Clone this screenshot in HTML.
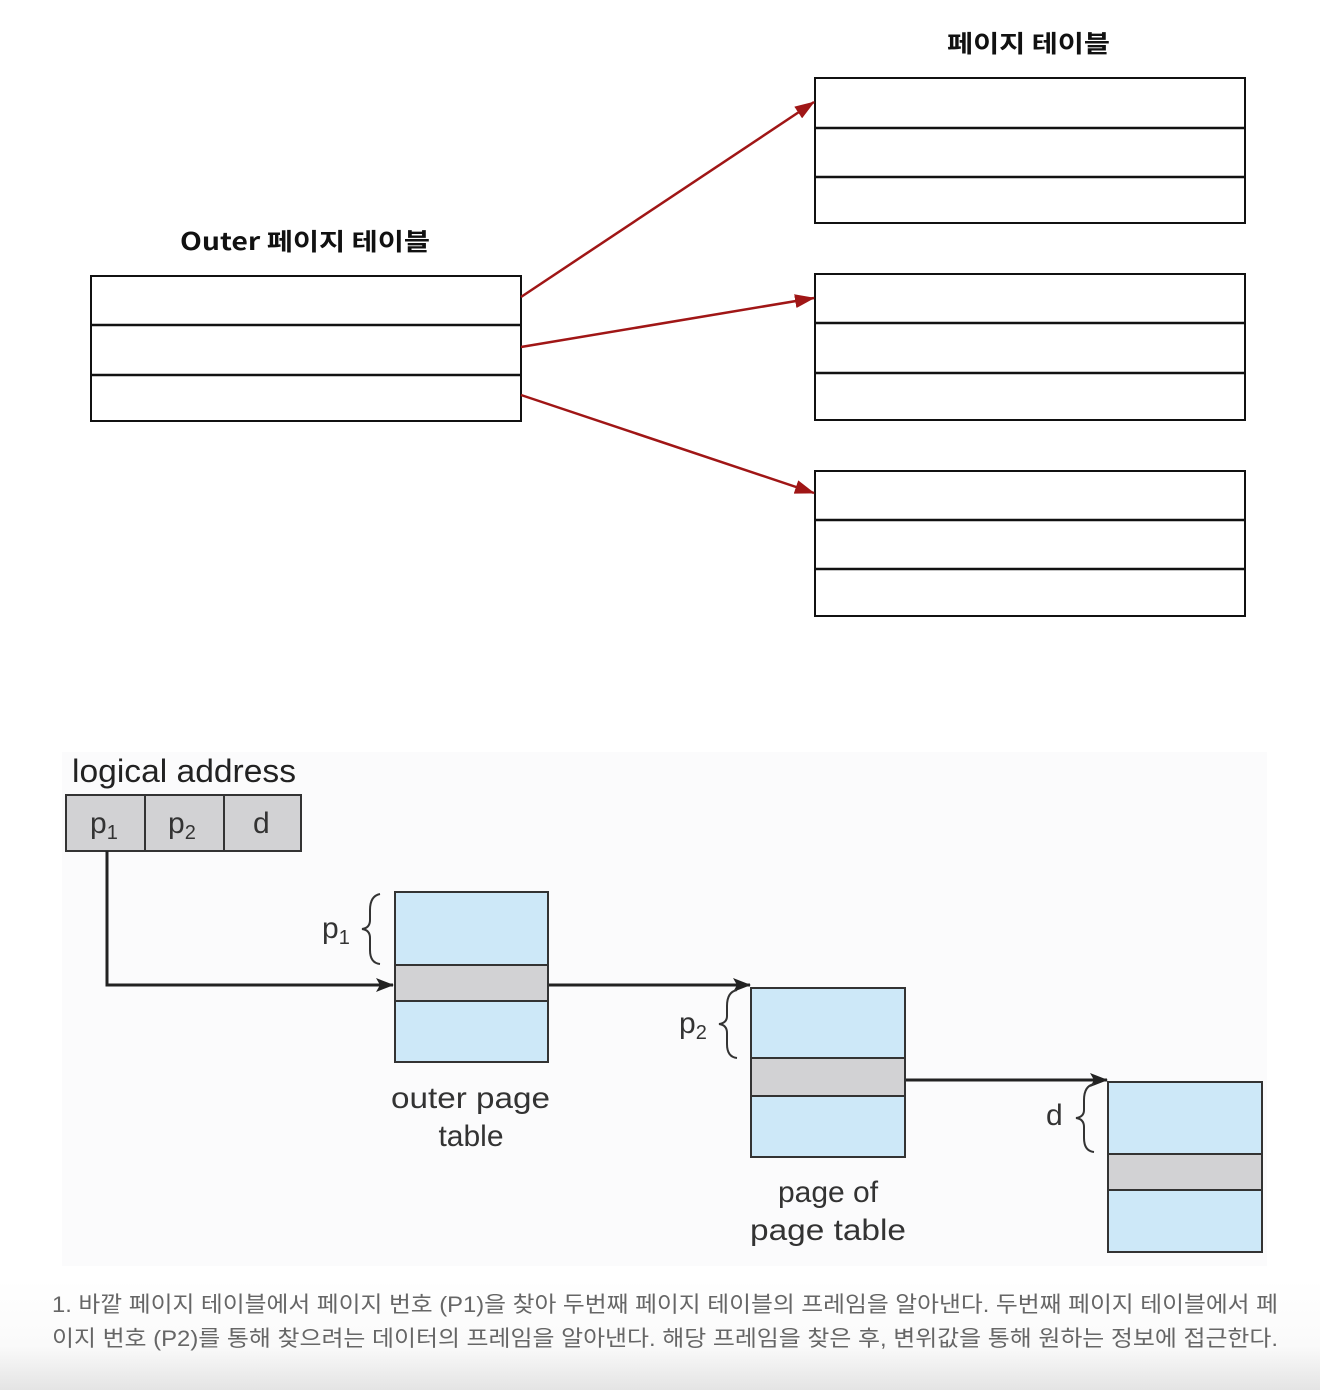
<!DOCTYPE html>
<html><head><meta charset="utf-8"><style>
body{margin:0;width:1320px;height:1390px;overflow:hidden;background:#fff;font-family:"Liberation Sans","Noto Sans CJK KR",sans-serif}
</style></head><body>
<svg width="1320" height="1390" xmlns="http://www.w3.org/2000/svg" style="position:absolute;left:0;top:0">
<defs>
<marker id="r" markerWidth="20" markerHeight="14" refX="19" refY="7" orient="auto" markerUnits="userSpaceOnUse" viewBox="0 0 20 14"><path d="M0,0 L20,7 L0,14z" fill="#a01616"/></marker>
<marker id="k" markerWidth="18" markerHeight="14" refX="17" refY="7" orient="auto" markerUnits="userSpaceOnUse" viewBox="0 0 18 14"><path d="M0,0 L18,7 L0,14 L4,7z" fill="#222"/></marker>
<linearGradient id="g" x1="0" y1="0" x2="0" y2="1"><stop offset="0" stop-color="#fff"/><stop offset="0.6" stop-color="#fafafa"/><stop offset="1" stop-color="#e4e4e4"/></linearGradient>
</defs>
<rect x="0" y="1280" width="1320" height="110" fill="url(#g)"/>
<rect x="62" y="752" width="1205" height="514" fill="#fbfbfc"/>
<g font-family="'Noto Sans CJK KR',sans-serif" font-size="24" font-weight="bold" fill="#111">
<text x="947" y="52" textLength="163" lengthAdjust="spacingAndGlyphs">페이지 테이블</text>
<text x="180" y="250" textLength="250" lengthAdjust="spacingAndGlyphs">Outer 페이지 테이블</text>
</g>
<g fill="#fff" stroke="#111" stroke-width="2">
<rect x="91" y="276" width="430" height="145"/>
<rect x="815" y="78" width="430" height="145"/>
<rect x="815" y="274" width="430" height="146"/>
<rect x="815" y="471" width="430" height="145"/>
</g>
<g stroke="#111" stroke-width="2.5">
<line x1="91" y1="325" x2="521" y2="325"/><line x1="91" y1="375" x2="521" y2="375"/>
<line x1="815" y1="128" x2="1245" y2="128"/><line x1="815" y1="177" x2="1245" y2="177"/>
<line x1="815" y1="323" x2="1245" y2="323"/><line x1="815" y1="373" x2="1245" y2="373"/>
<line x1="815" y1="520" x2="1245" y2="520"/><line x1="815" y1="569" x2="1245" y2="569"/>
</g>
<g stroke="#a01616" stroke-width="2.5" fill="none">
<line x1="521" y1="297" x2="814" y2="102" marker-end="url(#r)"/>
<line x1="521" y1="347" x2="814" y2="298" marker-end="url(#r)"/>
<line x1="521" y1="395" x2="814" y2="493" marker-end="url(#r)"/>
</g>
<text x="72" y="782" font-size="32" fill="#222" textLength="224" lengthAdjust="spacingAndGlyphs">logical address</text>
<g stroke="#333" stroke-width="2" fill="#d2d2d4">
<rect x="66" y="795" width="235" height="56"/>
<line x1="145" y1="795" x2="145" y2="851"/><line x1="224" y1="795" x2="224" y2="851"/>
</g>
<g font-size="30" fill="#333">
<text x="90" y="833">p<tspan font-size="20" dy="6">1</tspan></text>
<text x="168" y="833">p<tspan font-size="20" dy="6">2</tspan></text>
<text x="253" y="833">d</text>
</g>
<g stroke="#222" stroke-width="3" fill="none">
<polyline points="107,851 107,985 393,985" marker-end="url(#k)"/>
<line x1="548" y1="985" x2="750" y2="985" marker-end="url(#k)"/>
<line x1="905" y1="1080" x2="1107" y2="1080" marker-end="url(#k)"/>
</g>
<g stroke="#333" stroke-width="2">
<rect x="395" y="892" width="153" height="170" fill="#cde8f8"/>
<rect x="395" y="965" width="153" height="36" fill="#d2d2d4"/>
<rect x="751" y="988" width="154" height="169" fill="#cde8f8"/>
<rect x="751" y="1058" width="154" height="38" fill="#d2d2d4"/>
<rect x="1108" y="1082" width="154" height="170" fill="#cde8f8"/>
<rect x="1108" y="1154" width="154" height="36" fill="#d2d2d4"/>
</g>
<g stroke="#333" stroke-width="2" fill="none">
<path d="M380,894 Q370,896 370,910 L370,920 Q370,928 362,929 Q370,930 370,938 L370,950 Q370,963 380,964"/>
<path d="M737,990 Q727,992 727,1006 L727,1016 Q727,1023 719,1024 Q727,1025 727,1033 L727,1044 Q727,1057 737,1058"/>
<path d="M1094,1084 Q1084,1086 1084,1100 L1084,1110 Q1084,1117 1076,1118 Q1084,1119 1084,1127 L1084,1138 Q1084,1151 1094,1152"/>
</g>
<g font-size="30" fill="#333">
<text x="322" y="938">p<tspan font-size="20" dy="6">1</tspan></text>
<text x="679" y="1033">p<tspan font-size="20" dy="6">2</tspan></text>
<text x="1046" y="1125">d</text>
<text x="391" y="1108" textLength="159" lengthAdjust="spacingAndGlyphs">outer page</text>
<text x="471" y="1146" text-anchor="middle">table</text>
<text x="828" y="1202" text-anchor="middle">page of</text>
<text x="750" y="1240" textLength="156" lengthAdjust="spacingAndGlyphs">page table</text>
</g>
<g font-size="22" fill="#666">
<text x="52" y="1312" textLength="1226" lengthAdjust="spacingAndGlyphs">1. 바깥 페이지 테이블에서 페이지 번호 (P1)을 찾아 두번째 페이지 테이블의 프레임을 알아낸다. 두번째 페이지 테이블에서 페</text>
<text x="52" y="1346" textLength="1226" lengthAdjust="spacingAndGlyphs">이지 번호 (P2)를 통해 찾으려는 데이터의 프레임을 알아낸다. 해당 프레임을 찾은 후, 변위값을 통해 원하는 정보에 접근한다.</text>
</g>
</svg>
</body></html>
